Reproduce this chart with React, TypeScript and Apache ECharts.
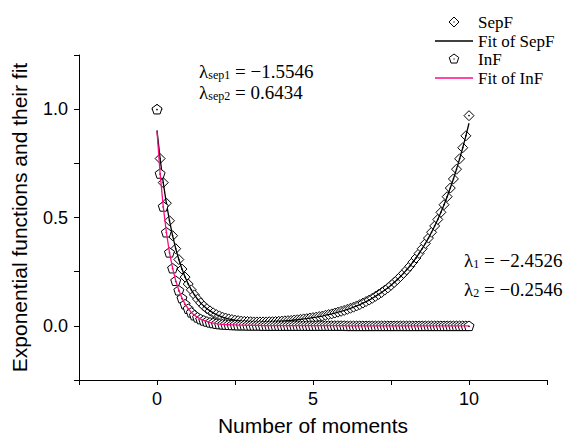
import React, { useEffect, useRef } from "react";
import * as echarts from "echarts";

// x positions: number of moments, 0 to 10 in steps of 0.1
const moments: number[] = Array.from({ length: 101 }, (_, i) => i / 10);

const sepfData: number[] = [
  1.000, 0.772, 0.661, 0.566, 0.485, 0.416, 0.356, 0.306, 0.262, 0.225,
  0.193, 0.166, 0.143, 0.123, 0.106, 0.091, 0.079, 0.069, 0.060, 0.052,
  0.046, 0.040, 0.036, 0.032, 0.029, 0.026, 0.024, 0.022, 0.021, 0.020,
  0.019, 0.018, 0.018, 0.018, 0.018, 0.018, 0.019, 0.019, 0.020, 0.021,
  0.022, 0.023, 0.024, 0.025, 0.027, 0.028, 0.030, 0.032, 0.033, 0.036,
  0.038, 0.040, 0.043, 0.045, 0.049, 0.052, 0.055, 0.059, 0.063, 0.067,
  0.071, 0.076, 0.081, 0.086, 0.092, 0.098, 0.105, 0.112, 0.119, 0.127,
  0.136, 0.145, 0.154, 0.165, 0.175, 0.187, 0.200, 0.213, 0.227, 0.242,
  0.258, 0.275, 0.294, 0.313, 0.334, 0.356, 0.380, 0.405, 0.432, 0.461,
  0.491, 0.524, 0.559, 0.596, 0.636, 0.678, 0.723, 0.771, 0.822, 0.877,
  0.970,
];

const sepfFit: number[] = [
  0.902, 0.772, 0.661, 0.566, 0.485, 0.416, 0.356, 0.306, 0.262, 0.225,
  0.193, 0.166, 0.143, 0.123, 0.106, 0.091, 0.079, 0.069, 0.060, 0.052,
  0.046, 0.040, 0.036, 0.032, 0.029, 0.026, 0.024, 0.022, 0.021, 0.020,
  0.019, 0.018, 0.018, 0.018, 0.018, 0.018, 0.019, 0.019, 0.020, 0.021,
  0.022, 0.023, 0.024, 0.025, 0.027, 0.028, 0.030, 0.032, 0.033, 0.036,
  0.038, 0.040, 0.043, 0.045, 0.049, 0.052, 0.055, 0.059, 0.063, 0.067,
  0.071, 0.076, 0.081, 0.086, 0.092, 0.098, 0.105, 0.112, 0.119, 0.127,
  0.136, 0.145, 0.154, 0.165, 0.175, 0.187, 0.200, 0.213, 0.227, 0.242,
  0.258, 0.275, 0.294, 0.313, 0.334, 0.356, 0.380, 0.405, 0.432, 0.461,
  0.491, 0.524, 0.559, 0.596, 0.636, 0.678, 0.723, 0.771, 0.822, 0.877,
  0.935,
];

const infData: number[] = [
  1.000, 0.703, 0.551, 0.432, 0.339, 0.266, 0.208, 0.164, 0.128, 0.100,
  0.079, 0.062, 0.049, 0.039, 0.031, 0.025, 0.020, 0.016, 0.013, 0.010,
  0.008, 0.007, 0.006, 0.005, 0.004, 0.004, 0.003, 0.003, 0.003, 0.002,
  0.002, 0.002, 0.002, 0.002, 0.001, 0.001, 0.001, 0.001, 0.001, 0.001,
  0.001, 0.001, 0.001, 0.001, 0.001, 0.001, 0.001, 0.001, 0.001, 0.001,
  0.001, 0.001, 0.001, 0.001, 0.001, 0.001, 0.001, 0.001, 0.001, 0.001,
  0.001, 0.000, 0.000, 0.000, 0.000, 0.000, 0.000, 0.000, 0.000, 0.000,
  0.000, 0.000, 0.000, 0.000, 0.000, 0.000, 0.000, 0.000, 0.000, 0.000,
  0.000, 0.000, 0.000, 0.000, 0.000, 0.000, 0.000, 0.000, 0.000, 0.000,
  0.000, 0.000, 0.000, 0.000, 0.000, 0.000, 0.000, 0.000, 0.000, 0.000,
  0.000,
];

const infFit: number[] = [
  0.898, 0.703, 0.551, 0.432, 0.339, 0.266, 0.208, 0.164, 0.128, 0.100,
  0.079, 0.062, 0.049, 0.039, 0.031, 0.025, 0.020, 0.016, 0.013, 0.010,
  0.008, 0.007, 0.006, 0.005, 0.004, 0.004, 0.003, 0.003, 0.003, 0.002,
  0.002, 0.002, 0.002, 0.002, 0.001, 0.001, 0.001, 0.001, 0.001, 0.001,
  0.001, 0.001, 0.001, 0.001, 0.001, 0.001, 0.001, 0.001, 0.001, 0.001,
  0.001, 0.001, 0.001, 0.001, 0.001, 0.001, 0.001, 0.001, 0.001, 0.001,
  0.001, 0.000, 0.000, 0.000, 0.000, 0.000, 0.000, 0.000, 0.000, 0.000,
  0.000, 0.000, 0.000, 0.000, 0.000, 0.000, 0.000, 0.000, 0.000, 0.000,
  0.000, 0.000, 0.000, 0.000, 0.000, 0.000, 0.000, 0.000, 0.000, 0.000,
  0.000, 0.000, 0.000, 0.000, 0.000, 0.000, 0.000, 0.000, 0.000, 0.000,
  0.000,
];

const seriesNames = ["SepF", "Fit of SepF", "InF", "Fit of InF"];
const xTickLabels = ["0", "5", "10"];
const yTickLabels = ["0.0", "0.5", "1.0"];

// fitted exponents shown as annotations: [subscript, value text]
const sepExponents: [string, string][] = [
  ["sep1", " = −1.5546"],
  ["sep2", " = 0.6434"],
];
const infExponents: [string, string][] = [
  ["1", " = −2.4526"],
  ["2", " = −0.2546"],
];

const SANS = "Liberation Sans, Arial, sans-serif";
const SERIF = "'Liberation Serif', 'Times New Roman', serif";
const PINK = "#ff0a84";

const DIAMOND =
  "path://M0,-5L5,0L0,5L-5,0Z M-0.35,-0.35L0.35,-0.35L0.35,0.35L-0.35,0.35Z";
const PENTAGON =
  "path://M0,-5L4.755,-1.545L2.939,4.045L-2.939,4.045L-4.755,-1.545Z M-0.35,-0.35L0.35,-0.35L0.35,0.35L-0.35,0.35Z";

const measureCtx: CanvasRenderingContext2D | null =
  typeof document !== "undefined" ? document.createElement("canvas").getContext("2d") : null;
function textWidth(text: string, size: number): number {
  if (!measureCtx) return text.length * size * 0.5;
  measureCtx.font = `${size}px ${SERIF}`;
  return measureCtx.measureText(text).width;
}

function annotation(x: number, y: number, sub: string, rest: string) {
  const mainSize = 19;
  const subSize = 12;
  const wL = textWidth("λ", mainSize);
  const wS = textWidth(sub, subSize);
  const st = (text: string, size: number) => ({
    text,
    fontFamily: SERIF,
    fontSize: size,
    fill: "#000",
    verticalAlign: "middle",
    align: "left",
  });
  return [
    { type: "text", x, y, style: st("λ", mainSize) },
    { type: "text", x: x + wL, y: y + 4, style: st(sub, subSize) },
    { type: "text", x: x + wL + wS, y, style: st(rest, mainSize) },
  ];
}

export default function App() {
  const ref = useRef<HTMLDivElement>(null);

  useEffect(() => {
    if (!ref.current) return;
    const chart = echarts.init(ref.current, undefined, { renderer: "svg" });

    const pts = (ys: number[]) => moments.map((x, i) => [x, ys[i]]);
    const legendX = 454;
    const legendTextX = 478;
    const rows = [22, 41, 59, 78];

    const legStyle = (text: string) => ({
      text,
      fontFamily: SERIF,
      fontSize: 17,
      fill: "#000",
      verticalAlign: "middle",
    });

    chart.setOption({
      animation: false,
      backgroundColor: "#fff",
      grid: { left: 79, right: 20, top: 55, bottom: 59 },
      xAxis: {
        type: "value",
        min: -2.5,
        max: 12.5,
        interval: 2.5,
        name: "Number of moments",
        nameLocation: "middle",
        nameGap: 35,
        nameTextStyle: { fontFamily: SANS, fontSize: 21, color: "#000" },
        axisLine: { onZero: false, lineStyle: { color: "#000", width: 1 } },
        axisTick: { show: true, inside: false, length: 5, lineStyle: { color: "#000" } },
        axisLabel: {
          fontFamily: SANS,
          fontSize: 18,
          color: "#000",
          margin: 10,
          showMinLabel: true,
          showMaxLabel: true,
          formatter: (v: number) => {
            const s = String(Math.round(v));
            return Math.abs(v - Math.round(v)) < 1e-9 && xTickLabels.includes(s) ? s : "";
          },
        },
        splitLine: { show: false },
      },
      yAxis: {
        type: "value",
        min: -0.25,
        max: 1.25,
        interval: 0.25,
        name: "Exponential functions and their fit",
        nameLocation: "middle",
        nameGap: 49,
        nameTextStyle: { fontFamily: SANS, fontSize: 21, color: "#000" },
        axisLine: { show: true, onZero: false, lineStyle: { color: "#000", width: 1 } },
        axisTick: { show: true, inside: false, length: 5, lineStyle: { color: "#000" } },
        axisLabel: {
          fontFamily: SANS,
          fontSize: 18,
          color: "#000",
          margin: 11,
          showMinLabel: true,
          showMaxLabel: true,
          formatter: (v: number) => {
            const s = v.toFixed(1);
            return Math.abs(v * 2 - Math.round(v * 2)) < 1e-9 && yTickLabels.includes(s) ? s : "";
          },
        },
        splitLine: { show: false },
      },
      series: [
        {
          name: seriesNames[0],
          type: "scatter",
          data: pts(sepfData),
          symbol: DIAMOND,
          symbolSize: 10,
          itemStyle: { color: "#fff", borderColor: "#000", borderWidth: 1, opacity: 1 },
          z: 2,
        },
        {
          name: seriesNames[1],
          type: "line",
          data: pts(sepfFit),
          symbol: "none",
          showSymbol: false,
          lineStyle: { color: "#000", width: 1.3 },
          z: 3,
        },
        {
          name: seriesNames[2],
          type: "scatter",
          data: pts(infData),
          symbol: PENTAGON,
          symbolSize: 10,
          symbolKeepAspect: true,
          itemStyle: { color: "#fff", borderColor: "#000", borderWidth: 1, opacity: 1 },
          z: 4,
        },
        {
          name: seriesNames[3],
          type: "line",
          data: pts(infFit),
          symbol: "none",
          showSymbol: false,
          lineStyle: { color: PINK, width: 1.3 },
          z: 5,
        },
      ],
      graphic: [
        // legend
        {
          type: "polygon",
          shape: { points: [[legendX, rows[0] - 5], [legendX + 5, rows[0]], [legendX, rows[0] + 5], [legendX - 5, rows[0]]] },
          style: { fill: "#fff", stroke: "#000", lineWidth: 1 },
        },
        { type: "circle", shape: { cx: legendX, cy: rows[0], r: 0.6 }, style: { fill: "#000" } },
        { type: "text", x: legendTextX, y: rows[0], style: legStyle(seriesNames[0]) },
        {
          type: "line",
          shape: { x1: 435, y1: rows[1], x2: 473, y2: rows[1] },
          style: { stroke: "#000", lineWidth: 1.3 },
        },
        { type: "text", x: legendTextX, y: rows[1], style: legStyle(seriesNames[1]) },
        {
          type: "polygon",
          shape: {
            points: [
              [legendX, rows[2] - 5],
              [legendX + 4.755, rows[2] - 1.545],
              [legendX + 2.939, rows[2] + 4.045],
              [legendX - 2.939, rows[2] + 4.045],
              [legendX - 4.755, rows[2] - 1.545],
            ],
          },
          style: { fill: "#fff", stroke: "#000", lineWidth: 1 },
        },
        { type: "circle", shape: { cx: legendX, cy: rows[2], r: 0.6 }, style: { fill: "#000" } },
        { type: "text", x: legendTextX, y: rows[2], style: legStyle(seriesNames[2]) },
        {
          type: "line",
          shape: { x1: 435, y1: rows[3], x2: 473, y2: rows[3] },
          style: { stroke: PINK, lineWidth: 1.3 },
        },
        { type: "text", x: legendTextX, y: rows[3], style: legStyle(seriesNames[3]) },
        // annotations
        ...annotation(199, 71, sepExponents[0][0], sepExponents[0][1]),
        ...annotation(199, 92, sepExponents[1][0], sepExponents[1][1]),
        ...annotation(464, 260, infExponents[0][0], infExponents[0][1]),
        ...annotation(464, 289, infExponents[1][0], infExponents[1][1]),
      ],
    });

    return () => chart.dispose();
  }, []);

  return <div ref={ref} style={{ width: 567, height: 441, position: "absolute", left: 0, top: 0 }} />;
}
